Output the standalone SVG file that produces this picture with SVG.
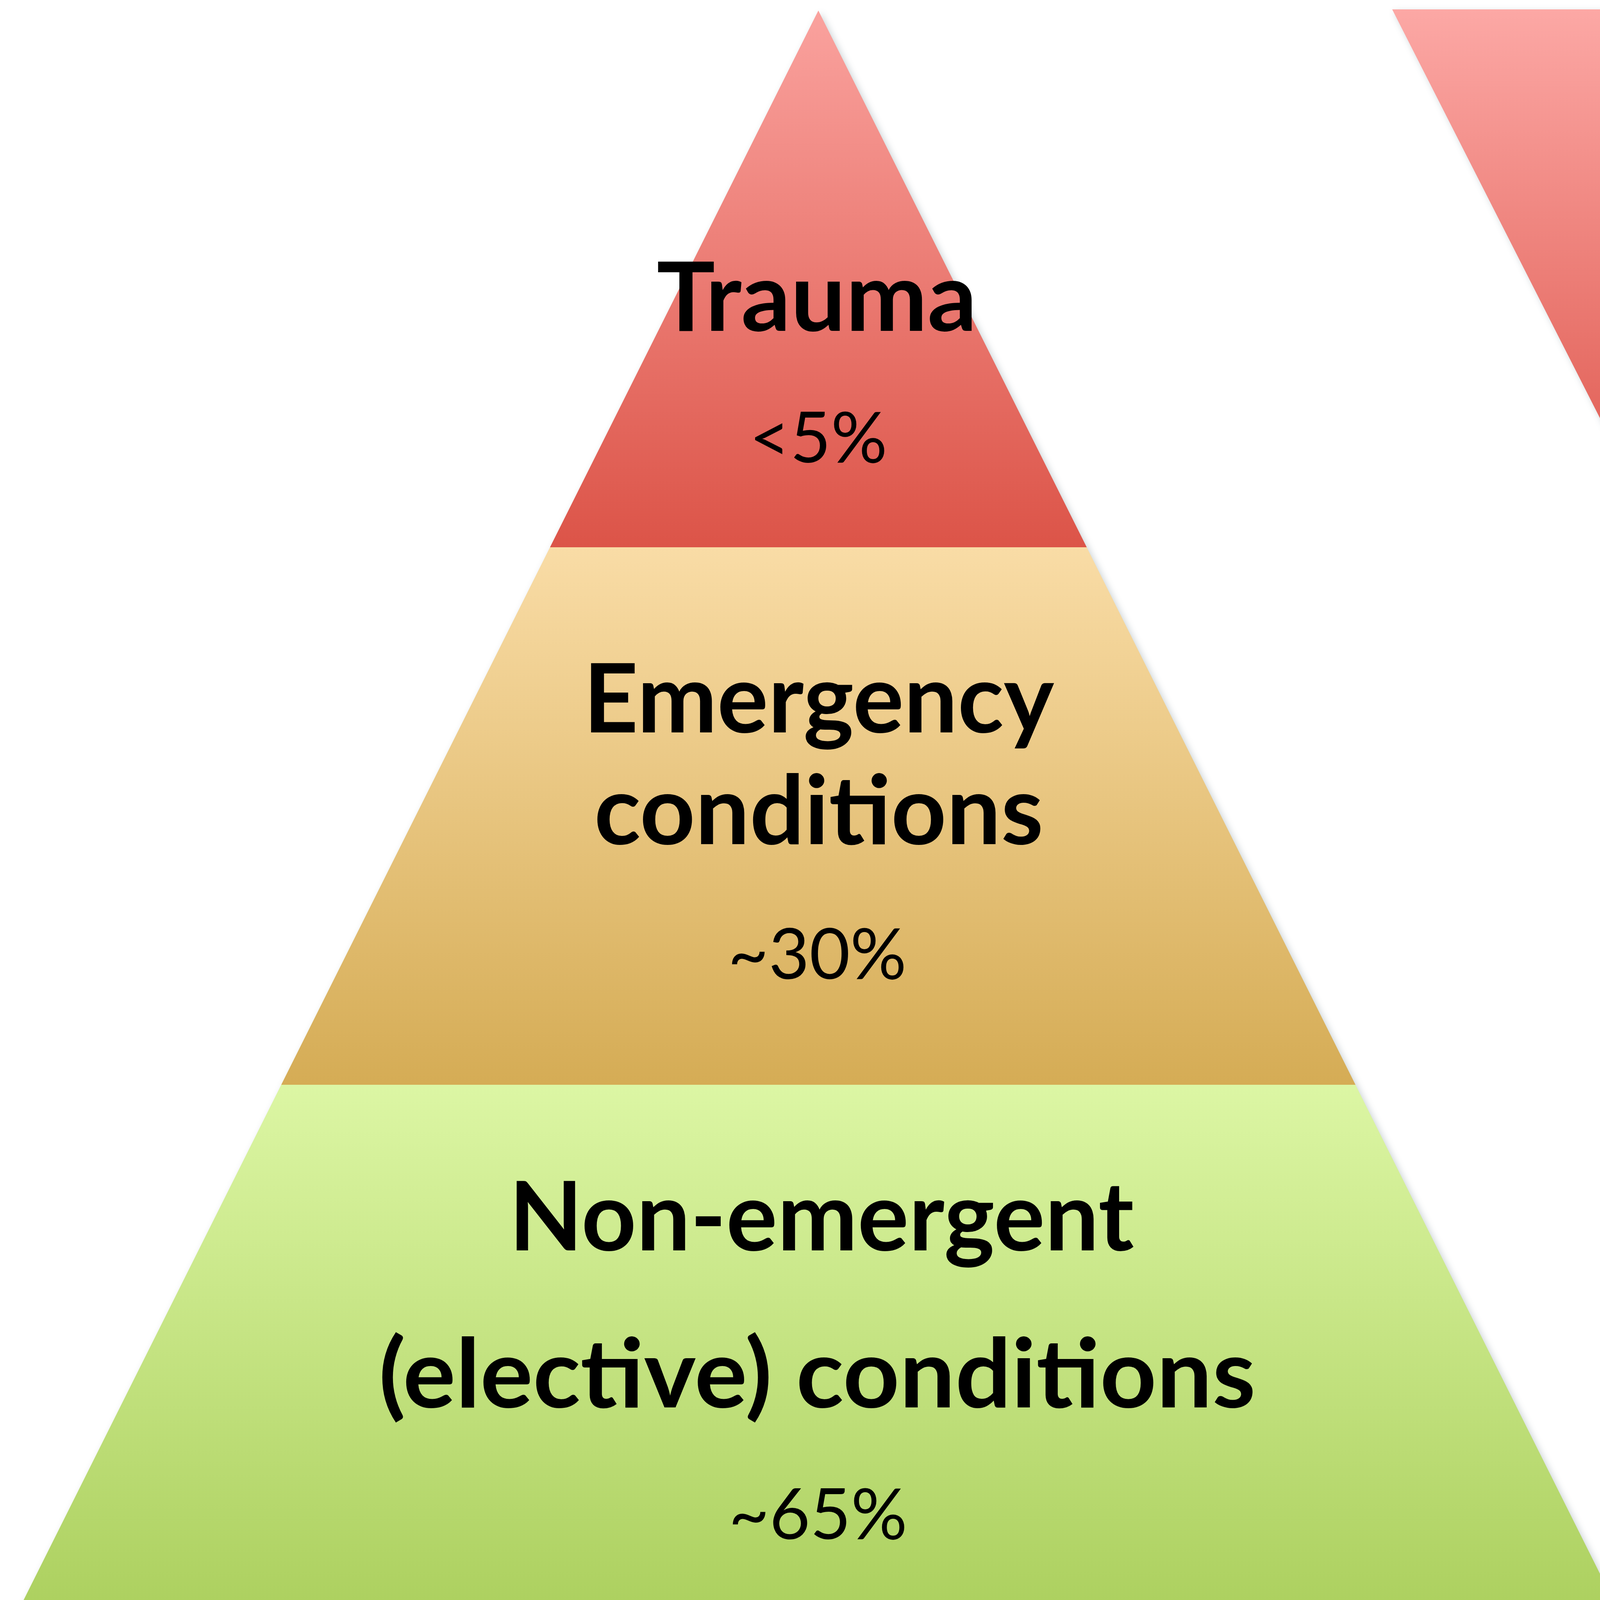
<svg xmlns="http://www.w3.org/2000/svg" width="7764" height="4159" viewBox="0 0 7764 4159">
  <defs>
    <linearGradient id="gRedL" x1="0" y1="0" x2="0" y2="1">
      <stop offset="0" stop-color="#faa29e"/>
      <stop offset="1" stop-color="#dc5448"/>
    </linearGradient>
    <linearGradient id="gRedR" x1="0" y1="0" x2="0" y2="1">
      <stop offset="0" stop-color="#fca8a5"/>
      <stop offset="1" stop-color="#dc5247"/>
    </linearGradient>
    <linearGradient id="gOrange" x1="0" y1="0" x2="0" y2="1">
      <stop offset="0" stop-color="#f9dca6"/>
      <stop offset="1" stop-color="#d5ac55"/>
    </linearGradient>
    <linearGradient id="gGreen" x1="0" y1="0" x2="0" y2="1">
      <stop offset="0" stop-color="#dcf6a4"/>
      <stop offset="1" stop-color="#abcf5d"/>
    </linearGradient>
    <filter id="shadow" x="-5%" y="-5%" width="110%" height="110%">
      <feGaussianBlur stdDeviation="9"/>
    </filter>
  </defs>
  <style>
    .bold { font-family: Lato, "Open Sans", "Liberation Sans", sans-serif; font-weight: 700; font-size: 245px; fill: #000; text-anchor: middle; }
    .pct { font-family: Lato, "Open Sans", "Liberation Sans", sans-serif; font-weight: 400; font-size: 180px; fill: #000; text-anchor: middle; }
    .arial { font-family: "Liberation Sans", Arial, sans-serif; font-size: 200px; fill: #000; text-anchor: middle; }
    .arialS { font-family: "Liberation Sans", Arial, sans-serif; font-size: 175px; fill: #000; }
    .shadow { fill: #8a9aa0; opacity: 0.45; filter: url(#shadow); }
  </style>
  <rect x="0" y="0" width="7764" height="4159" fill="#ffffff"/>

  <!-- soft shadows behind shapes -->
  <polygon class="shadow" points="2101,33 4166,4163 36,4163"/>
  <polygon class="shadow" points="3570,30 7765,30 5668,4158"/>

  <!-- Left pyramid -->
  <g id="pyramid-trauma">
    <polygon points="2095,27 2782,1401 1408,1401" fill="url(#gRedL)"/>
    <text class="bold" x="2091" y="847" textLength="820" lengthAdjust="spacingAndGlyphs">Trauma</text>
    <text class="pct" x="2095" y="1184">&lt;5%</text>
  </g>
  <g id="pyramid-emergency">
    <polygon points="1408,1401 2782,1401 3470,2777 720,2777" fill="url(#gOrange)"/>
    <text class="bold" x="2096" y="1875" textLength="1205" lengthAdjust="spacingAndGlyphs">Emergency</text>
    <text class="bold" x="2096" y="2161" textLength="1150" lengthAdjust="spacingAndGlyphs">conditions</text>
    <text class="pct" x="2092" y="2506">~30%</text>
  </g>
  <g id="pyramid-elective">
    <polygon points="720,2777 3470,2777 4160,4157 30,4157" fill="url(#gGreen)"/>
    <text class="bold" x="2103" y="3201" textLength="1600" lengthAdjust="spacingAndGlyphs">Non-emergent</text>
    <text class="bold" x="2092" y="3603" textLength="2245" lengthAdjust="spacingAndGlyphs">(elective) conditions</text>
    <text class="pct" x="2094" y="3940">~65%</text>
  </g>

  <!-- Right inverted pyramid -->
  <g id="funnel-top">
    <polygon points="3564,24 7759,24 7060,1401 4264,1401" fill="url(#gRedR)"/>
    <text class="arial" x="5596" y="464">• Intensive care monitoring</text>
    <text class="arial" x="5604" y="709">• Interventional radiology</text>
  </g>
  <g id="funnel-middle">
    <polygon points="4264,1401 7060,1401 6360,2777 4963,2777" fill="url(#gOrange)"/>
    <text class="arial" x="5665" y="1769">• ICU or intermediate care</text>
    <text class="arial" x="5664" y="2008">• drains &amp; tubes</text>
    <text class="arial" x="5664" y="2246">• antibiotics</text>
  </g>
  <g id="funnel-bottom">
    <polygon points="4963,2777 6360,2777 5662,4152" fill="url(#gGreen)"/>
    <text class="arialS" x="5071" y="2937">• unfit surgical</text>
    <text class="arialS" x="5199" y="3138">candidates</text>
  </g>

  <g id="connectors"/>
</svg>
